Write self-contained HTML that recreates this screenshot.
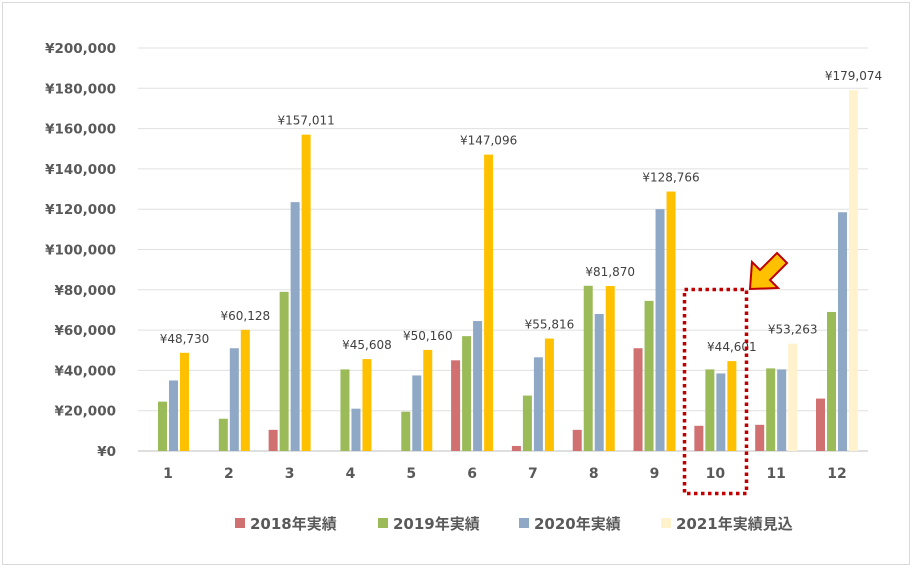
<!DOCTYPE html>
<html><head><meta charset="utf-8"><style>
body{margin:0;background:#fff;font-family:"DejaVu Sans","Noto Sans CJK JP",sans-serif}
</style></head><body>
<svg width="913" height="568" xmlns="http://www.w3.org/2000/svg" id="chart" font-family='"DejaVu Sans","Noto Sans CJK JP",sans-serif'>
<rect x="2.5" y="2.5" width="907" height="562" fill="#fff" stroke="#d9d9d9"/>
</svg>
<script>
const categories=["1","2","3","4","5","6","7","8","9","10","11","12"];
const s2018=[0,0,10500,0,0,45000,2500,10500,51000,12500,13000,26000];
const s2019=[24500,16000,79000,40500,19500,57000,27500,82000,74500,40500,41000,69000];
const s2020=[35000,51000,123500,21000,37500,64500,46500,68000,120000,38500,40500,118500];
const s2021=[48730,60128,157011,45608,50160,147096,55816,81870,128766,44601,53263,179074];
const forecast=[false,false,false,false,false,false,false,false,false,false,true,true];
const yTicks=[0,20000,40000,60000,80000,100000,120000,140000,160000,180000,200000];
const NS="http://www.w3.org/2000/svg";
const svg=document.getElementById('chart');
const y0=451,y1=48,xL=138,xR=868;
const y=v=>y0-(v/200000)*(y0-y1);
const x=i=>168+i*(837-168)/11;
function el(t,a,txt){const e=document.createElementNS(NS,t);for(const k in a)e.setAttribute(k,a[k]);if(txt!==undefined)e.textContent=txt;svg.appendChild(e);return e;}
const fmt=v=>"¥"+v.toLocaleString('en-US');
yTicks.forEach(v=>{
 const g=el('line',{x1:xL,x2:xR,y1:y(v),y2:y(v),stroke:v===0?'#bfbfbf':'#e0e0e0','stroke-width':1});
 
 
 const t=el('text',{x:116,y:y(v)+5,'text-anchor':'end','font-size':13.5,'font-weight':'bold',fill:'#595959'},fmt(v));
 
 
});
const series=[[s2018,'#d07070'],[s2019,'#9bbb59'],[s2020,'#8ea8c6'],[s2021,'#ffc000']];
categories.forEach((c,i)=>{
 series.forEach(([d,col],k)=>{
  if(d[i]<=0)return;
  let fill=col; if(k===3&&forecast[i])fill='#fff2cc';
  const r=el('rect',{x:x(i)-21+k*11,y:y(d[i]),width:9,height:y0-y(d[i]),fill:fill});
  
  
 });
 const lb=el('text',{x:x(i)+16.5,y:y(s2021[i])-10,'text-anchor':'middle','font-size':12,fill:'#404040'},fmt(s2021[i]));
 
 
 const xt=el('text',{x:x(i),y:478,'text-anchor':'middle','font-size':14,'font-weight':'bold',fill:'#595959'},c);
 
 
});
const legend=[["2018年実績",'#d07070',235],["2019年実績",'#9bbb59',378],["2020年実績",'#8ea8c6',519],["2021年実績見込",'#fff2cc',661]];
legend.forEach(([n,c,lx])=>{
 const r=el('rect',{x:lx,y:518,width:10,height:10,fill:c});
 
 
 const t=el('text',{x:lx+15,y:529,'font-size':15,'font-weight':'bold',fill:'#595959'},n);
 
 
});
const box=el('rect',{x:684.5,y:289.5,width:62,height:204,fill:'none',stroke:'#c00000','stroke-width':3.5,'stroke-dasharray':'3.5,3.5'});


const arr=el('polygon',{points:'750,289 752,262 760,270 777,253 787,263 770,280 778,288',fill:'#ffc000',stroke:'#c00000','stroke-width':2,'stroke-linejoin':'miter'});


</script>
</body></html>
